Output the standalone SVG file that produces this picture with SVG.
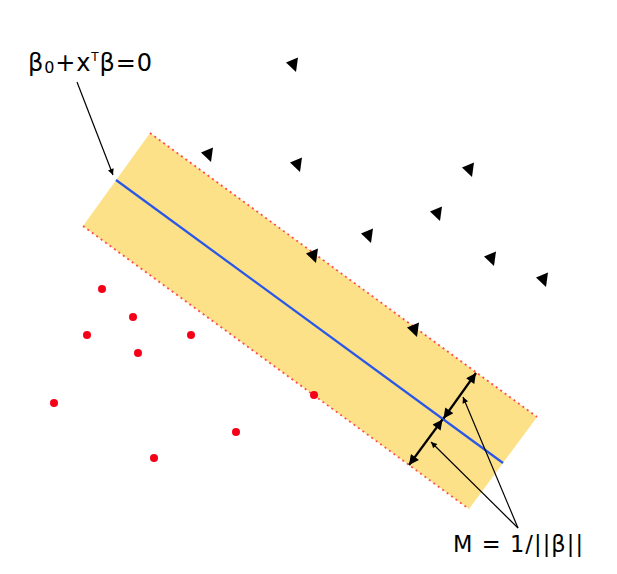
<svg xmlns="http://www.w3.org/2000/svg" width="617" height="574" viewBox="0 0 617 574">
<style>
.dash{stroke:#ff4d4d;stroke-width:1.8;stroke-dasharray:2 3.5;fill:none}
.tri{fill:#000}
.dot{fill:#f50018}
.lbl{font-family:"DejaVu Sans","Liberation Sans",Arial,sans-serif;fill:#000}
.ptr{stroke:#000;stroke-width:1.2;fill:none}
.dbl{stroke:#000;stroke-width:2.2;fill:none}
</style>
<defs>
<marker id="big" viewBox="0 0 10 10" refX="10" refY="5" markerWidth="11" markerHeight="10" markerUnits="userSpaceOnUse" orient="auto-start-reverse">
<path d="M0,0 L10,5 L0,10 Z" fill="#000"/>
</marker>
<marker id="thin" viewBox="0 0 10 10" refX="10" refY="5" markerWidth="10" markerHeight="6" markerUnits="userSpaceOnUse" orient="auto">
<path d="M0,0 L10,5 L0,10 Z" fill="#000"/>
</marker>
<polygon id="t" points="-7,-1.5 5,-6.5 3,8"/>
</defs>
<rect width="617" height="574" fill="#fff"/>
<g id="band">
<polygon points="150,133 537,417 469,509 83,226" fill="#fde189"/>
<line class="dash" x1="150" y1="133" x2="537" y2="417"/>
<line class="dash" x1="83" y1="226" x2="469" y2="509"/>
</g>
<g id="hyperplane">
<line x1="116" y1="180" x2="503" y2="463" stroke="#2a58e6" stroke-width="2.3"/>
</g>
<g id="class-triangles" class="tri">
<use href="#t" x="293" y="64"/>
<use href="#t" x="208" y="154"/>
<use href="#t" x="297" y="164"/>
<use href="#t" x="469" y="169"/>
<use href="#t" x="437" y="213"/>
<use href="#t" x="368" y="235"/>
<use href="#t" x="313" y="255"/>
<use href="#t" x="491" y="258"/>
<use href="#t" x="543" y="279"/>
<use href="#t" x="414" y="329"/>
</g>
<g id="class-dots" class="dot">
<circle cx="102" cy="289" r="4"/>
<circle cx="133" cy="317" r="4"/>
<circle cx="87" cy="335" r="4"/>
<circle cx="191" cy="335" r="4"/>
<circle cx="138" cy="353" r="4"/>
<circle cx="54" cy="403" r="4"/>
<circle cx="314" cy="395" r="4"/>
<circle cx="236" cy="432" r="4"/>
<circle cx="154" cy="458" r="4"/>
</g>
<g id="connectors">
<line class="dbl" x1="443.5" y1="418.5" x2="476" y2="373" marker-start="url(#big)" marker-end="url(#big)"/>
<line class="dbl" x1="442.5" y1="419.5" x2="409" y2="465" marker-start="url(#big)" marker-end="url(#big)"/>
<line class="ptr" x1="518" y1="528" x2="463" y2="397" marker-end="url(#thin)"/>
<line class="ptr" x1="518" y1="528" x2="431" y2="442" marker-end="url(#thin)"/>
<line class="ptr" x1="77" y1="82" x2="113" y2="175" marker-end="url(#thin)"/>
</g>
<g id="label-hyperplane">
<text class="lbl" x="28" y="71" font-size="24" textLength="124" lengthAdjust="spacing">β<tspan font-size="16" dy="2">0</tspan><tspan dy="-2">+x</tspan><tspan font-size="12" dy="-10">T</tspan><tspan dy="10">β=0</tspan></text>
</g>
<g id="label-margin">
<text class="lbl" x="453" y="552" font-size="22.5" textLength="130" lengthAdjust="spacing">M = 1/||β||</text>
</g>
</svg>
